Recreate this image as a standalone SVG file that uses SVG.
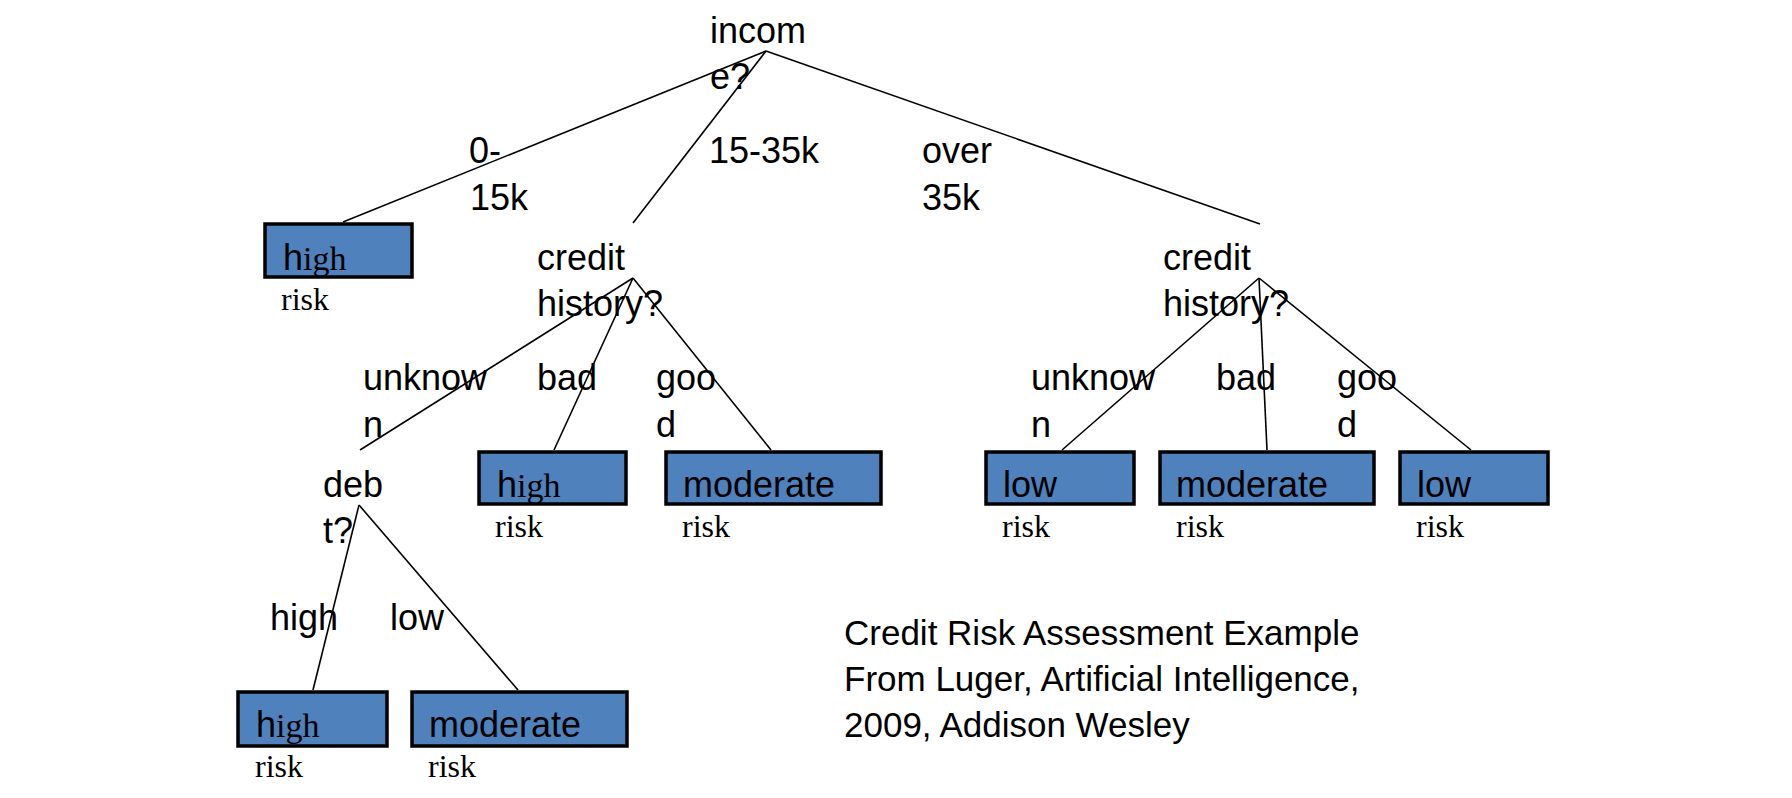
<svg xmlns="http://www.w3.org/2000/svg" width="1792" height="798" viewBox="0 0 1792 798">
<style>
.t{font-family:"Liberation Sans",Arial,sans-serif;font-size:36px;fill:#000}
.s{font-family:"Liberation Serif","Times New Roman",serif;font-size:32px;fill:#000}
.g{font-family:"Liberation Serif","Times New Roman",serif;font-size:34px}
.box{fill:#4F81BD;stroke:#000;stroke-width:3.5}
.e{stroke:#000;stroke-width:1.6;fill:none}
</style>
<rect width="1792" height="798" fill="#fff"/>
<g id="connectors">
<line class="e" x1="766" y1="51" x2="343" y2="222"/>
<line class="e" x1="766" y1="51" x2="633" y2="223"/>
<line class="e" x1="766" y1="51" x2="1260" y2="224"/>
<line class="e" x1="633" y1="278" x2="360" y2="450"/>
<line class="e" x1="633" y1="278" x2="554" y2="450"/>
<line class="e" x1="633" y1="278" x2="771" y2="450"/>
<line class="e" x1="1259" y1="278" x2="1062" y2="450"/>
<line class="e" x1="1259" y1="278" x2="1267" y2="450"/>
<line class="e" x1="1259" y1="278" x2="1471" y2="450"/>
<line class="e" x1="359" y1="505" x2="313" y2="690"/>
<line class="e" x1="359" y1="505" x2="518" y2="690"/>
</g>
<g id="edge-labels">
<text class="t" x="469" y="163">0-</text>
<text class="t" x="470" y="210">15k</text>
<text class="t" x="709" y="163">15-35k</text>
<text class="t" x="922" y="163">over</text>
<text class="t" x="922" y="210">35k</text>
<text class="t" x="363" y="390">unknow</text>
<text class="t" x="363" y="437">n</text>
<text class="t" x="537" y="390">bad</text>
<text class="t" x="656" y="390">goo</text>
<text class="t" x="656" y="437">d</text>
<text class="t" x="1031" y="390">unknow</text>
<text class="t" x="1031" y="437">n</text>
<text class="t" x="1216" y="390">bad</text>
<text class="t" x="1337" y="390">goo</text>
<text class="t" x="1337" y="437">d</text>
<text class="t" x="270" y="630">high</text>
<text class="t" x="390" y="630">low</text>
</g>
<g id="income">
<text class="t" x="710" y="43">incom</text>
<text class="t" x="710" y="89">e?</text>
</g>
<g id="credit-left">
<text class="t" x="537" y="270">credit</text>
<text class="t" x="537" y="316">history?</text>
</g>
<g id="credit-right">
<text class="t" x="1163" y="270">credit</text>
<text class="t" x="1163" y="316">history?</text>
</g>
<g id="debt">
<text class="t" x="323" y="497">deb</text>
<text class="t" x="323" y="543">t?</text>
</g>
<g id="leaf-high-1">
<rect class="box" x="265" y="224" width="147" height="53"/>
<text class="t" x="283" y="270">h<tspan class="g">igh</tspan></text>
<text class="s" x="281" y="310">risk</text>
</g>
<g id="leaf-high-2">
<rect class="box" x="479" y="452" width="147" height="52"/>
<text class="t" x="497" y="497">h<tspan class="g">igh</tspan></text>
<text class="s" x="495" y="537">risk</text>
</g>
<g id="leaf-moderate-1">
<rect class="box" x="666" y="452" width="215" height="52"/>
<text class="t" x="683" y="497">moderate</text>
<text class="s" x="682" y="537">risk</text>
</g>
<g id="leaf-low-1">
<rect class="box" x="986" y="452" width="148" height="52"/>
<text class="t" x="1003" y="497">low</text>
<text class="s" x="1002" y="537">risk</text>
</g>
<g id="leaf-moderate-2">
<rect class="box" x="1160" y="452" width="214" height="52"/>
<text class="t" x="1176" y="497">moderate</text>
<text class="s" x="1176" y="537">risk</text>
</g>
<g id="leaf-low-2">
<rect class="box" x="1400" y="452" width="148" height="52"/>
<text class="t" x="1417" y="497">low</text>
<text class="s" x="1416" y="537">risk</text>
</g>
<g id="leaf-high-3">
<rect class="box" x="238" y="692" width="149" height="54"/>
<text class="t" x="256" y="737">h<tspan class="g">igh</tspan></text>
<text class="s" x="255" y="777">risk</text>
</g>
<g id="leaf-moderate-3">
<rect class="box" x="412" y="692" width="215" height="54"/>
<text class="t" x="429" y="737">moderate</text>
<text class="s" x="428" y="777">risk</text>
</g>
<g id="caption">
<text class="t" style="font-size:35px" x="844" y="645">Credit Risk Assessment Example</text>
<text class="t" style="font-size:35px" x="844" y="691">From Luger, Artificial Intelligence,</text>
<text class="t" style="font-size:35px" x="844" y="737">2009, Addison Wesley</text>
</g>
</svg>
